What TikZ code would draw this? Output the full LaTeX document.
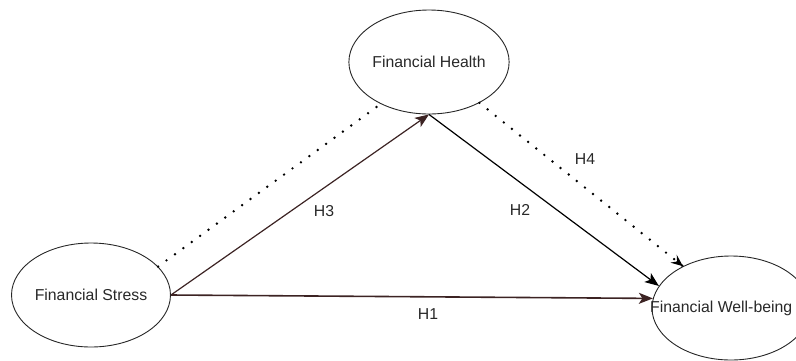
\documentclass[tikz,border=0pt]{standalone}
\usepackage{fontspec}
\setmainfont{Liberation Sans}
\usetikzlibrary{shapes.geometric,arrows.meta,calc}
\definecolor{edgebrown}{RGB}{60,35,35}
\definecolor{txt}{RGB}{40,40,40}
\tikzset{
  var/.style={ellipse, draw=black!85, line width=0.9pt, minimum width=158pt, minimum height=104pt, inner sep=0pt, text=txt, font=\fontsize{15.8}{18}\selectfont},
  lbl/.style={text=txt, font=\fontsize{15.8}{18}\selectfont, inner sep=0pt},
  solidarrow/.style={line width=1.2pt, -{Stealth[length=14pt, width=11pt, inset=3.5pt]}},
  dotline/.style={line width=2.7pt, line cap=round, dash pattern=on 0pt off 10.4pt},
}
\begin{document}
\begin{tikzpicture}[x=1pt, y=-1pt]
\useasboundingbox (0,0) rectangle (796,360);
\node[var] (fh) at (429,62) {Financial Health};
\node[var] (fs) at (91,295) {Financial Stress};
\node[var] (fw) at (731,308) {};
\node[lbl, anchor=west] (fwt) at (650,308) {Financial Well-being};
% H1
\draw[solidarrow, color=edgebrown, line width=1.6pt] (fs.east) -- (fw.173);
% H3
\draw[solidarrow, color=edgebrown] (fs.east) -- (fh.south);
% H2
\draw[solidarrow, color=black] (fh.south) -- (fw.163);
% dotted lines
\draw[dotline] (fs.23) -- (fh.221);
\draw[dotline] (fh.321) -- (fw.139.5);
\draw[line width=1.1pt, -{Stealth[length=12pt, width=10pt, inset=4.5pt]}] ($(fw.139.5)!8pt!(fh.321)$) -- (fw.139.5);
\node[lbl] (h1) at (428,314) {H1};
\node[lbl] (h2) at (520,210) {H2};
\node[lbl] (h3) at (324,211) {H3};
\node[lbl] (h4) at (585,159) {H4};
\end{tikzpicture}
\end{document}
